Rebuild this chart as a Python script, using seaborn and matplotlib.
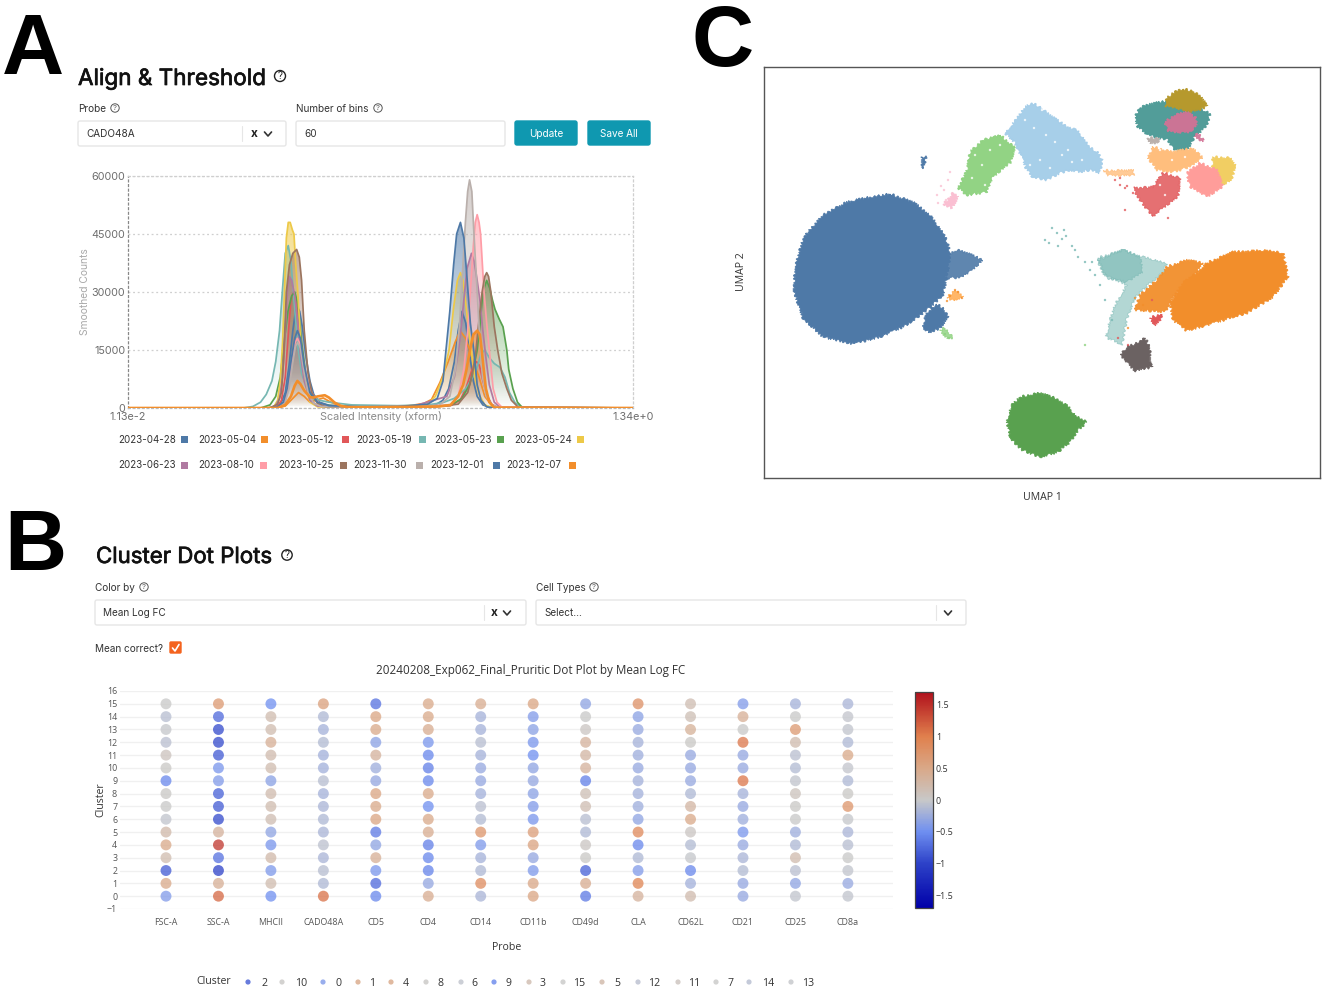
import numpy as np
import pandas as pd
import matplotlib
matplotlib.use("Agg")
import matplotlib.pyplot as plt
import matplotlib.patheffects as pe
from matplotlib.colors import LinearSegmentedColormap, Normalize, to_rgb
from matplotlib.cm import ScalarMappable
from matplotlib.patches import FancyBboxPatch, Circle, Polygon, Rectangle
import seaborn as sns

W, H = 1325, 990

# ---------- Panel A data (intensity in thousandths, counts in thousands) ----------
dates = ["2023-04-28","2023-05-04","2023-05-12","2023-05-19","2023-05-23","2023-05-24",
         "2023-06-23","2023-08-10","2023-10-25","2023-11-30","2023-12-01","2023-12-07"]
date_colors = ["#4e79a7","#f28e2b","#e15759","#76b7b2","#59a14f","#edc948",
               "#b07aa1","#ff9da7","#9c755f","#bab0ac","#4e79a7","#f28e2b"]
x_0428 = [11,370,395,405,415,425,435,445,452,457,463,470,480,490,500,515,540,600,700,780,820,840,855,870,880,890,900,910,920,930,945,965,1340]
y_0428 = [0,0,.1,.5,1.5,4,11,20,25,26,25,21,13,7,3.5,1.5,.7,.4,.3,.4,.8,2,5,12,20,25,22,14,7,3,.8,.1,0]
x_0504 = [11,400,425,445,460,475,490,505,525,545,570,650,720,760,790,810,832,853,872,885,900,920,935,950,970,990,1340]
y_0504 = [0,0,.5,2.5,4,3,1.5,2,2.6,1.5,.5,.3,.4,.7,1.2,2.2,6.6,11.8,17,20,18,12,8,3,.5,.1,0]
x_0512 = [11,385,405,415,425,433,440,446,453,462,472,485,500,520,620,780,860,885,900,910,920,928,936,945,955,968,985,1340]
y_0512 = [0,0,.4,2,8,19,28,30,28,20,10,4,1.2,.3,.2,.3,.6,2,5,8,11,12,11,7,3.5,1,.1,0]
x_0519 = [11,315,340,360,375,390,400,410,418,425,433,440,448,458,468,480,495,515,540,600,720,800,840,870,900,925,940,950,962,975,990,1003,1015,1030,1045,1060,1340]
y_0519 = [0,0,.4,1.5,3.5,7,12,20,31,40,42,38,28,16,9,5.5,3,2,1.5,.8,.6,.8,1.4,2.5,5,9,14,15,13,11.5,10.5,8,4,1.3,.4,0,0]
x_0523 = [11,360,385,400,412,422,432,442,450,458,468,480,495,515,600,780,860,890,910,920,930,938,945,955,963,970,977,988,998,1003,1008,1013,1024,1036,1048,1340]
y_0523 = [0,0,.8,3,8,17,25,29,30,27,17,8,3,.8,.3,.3,.7,2.5,6,10,15,22,30,33,31,28,25.5,23,21,18,15,10,5,1.5,.2,0]
x_0524 = [11,375,395,405,412,418,424,428,433,438,444,448,452,458,465,475,490,510,600,760,800,820,840,856,868,878,886,893,900,910,924,935,950,970,1340]
y_0524 = [0,0,.3,2,7,17,33,44,48,48,46,45,38,30,18,7,1.5,.3,.2,.3,1,3,8,15,26,33,35,33,27,18,8,3.5,.8,.1,0]
x_0623 = [11,380,400,410,418,425,431,436,442,450,458,465,475,490,510,600,760,850,870,885,895,903,915,922,930,937,945,953,962,975,990,1340]
y_0623 = [0,0,.6,2.5,8,20,31,34,33,29,22,14,7,2,.5,.3,.4,3,8,18,28,36,40,38,33,28,20,13,6,1.5,.2,0]
x_0810 = [11,395,415,425,435,445,451,457,464,475,490,505,525,600,750,860,880,895,905,912,920,925,930,935,939,948,955,962,972,982,995,1340]
y_0810 = [0,0,.5,2,6,13,17,18,16.5,10.5,5,2,.6,.3,.3,.8,3,10,20,30,42,48,50,48,45,30,22,15,5,1.5,.2,0]
x_1025 = [11,385,405,415,421,428,436,445,455,462,468,475,485,495,510,530,620,820,880,905,918,927,936,943,950,955,960,966,975,984,995,1008,1020,1038,1340]
y_1025 = [0,0,1,4,13,30,37,40,41,39,33,20,9,4,1.2,.4,.2,.3,1,4,9,15,24,30,34,35,34,30,21,15,9,5,2,.2,0]
x_1130 = [11,395,415,425,435,445,452,458,465,475,485,500,520,600,750,830,858,873,884,892,899,905,910,916,921,929,936,944,954,969,989,1340]
y_1130 = [0,0,.3,1.5,5,12,16,17,15.5,9,4,1.2,.4,.3,.3,.7,3,10,22,36,48,56,59,56,46,32,19,8,3,.8,.1,0]
x_1201 = [11,385,405,420,430,440,450,457,465,475,490,510,540,620,720,800,825,840,848,858,868,876,886,895,903,906,912,921,930,940,955,975,1340]
y_1201 = [0,0,.3,1.5,5,12,18,20,18,11,4,1.5,.6,.3,.3,1,2.5,7,15,25,37,45,48,44,34,30,22,15,6,2,.3,0,0]
x_1207 = [11,405,425,440,450,457,465,475,490,500,510,529,540,555,570,590,660,760,830,860,880,893,902,911,920,930,937,942,945,953,962,975,1340]
y_1207 = [0,0,.8,3,5.8,7,6.2,4.5,2.8,2.7,3,3.3,2.7,1.4,.6,.2,.2,.3,.4,.8,3,6,10,15,19,20,19,15,12,5,1.5,.1,0]
curves_x = [x_0428,x_0504,x_0512,x_0519,x_0523,x_0524,x_0623,x_0810,x_1025,x_1130,x_1201,x_1207]
curves_y = [y_0428,y_0504,y_0512,y_0519,y_0523,y_0524,y_0623,y_0810,y_1025,y_1130,y_1201,y_1207]
y_ticks_a = [0,15000,30000,45000,60000]

# ---------- Panel B data (rows are clusters 15 down to 0) ----------
probes = ["FSC-A","SSC-A","MHCII","CADO48A","CD5","CD4","CD14","CD11b","CD49d","CLA","CD62L","CD21","CD25","CD8a"]
clusters_desc = list(range(15,-1,-1))
v_fsc  = [0,-.1,-.02,-.08,.08,.02,-.55,.02,.01,-.05,.25,.5,.2,-.85,.5,-.4]
v_ssc  = [.7,-.75,-.95,-.95,-.85,-.45,-.4,-.8,-.85,-.95,.35,1.45,-.7,-1.0,.4,1.15]
v_mhc  = [-.5,.2,.2,.4,.22,.2,-.35,.22,.2,.18,-.32,-.45,.25,-.42,.2,-.5]
v_cado = [.6,-.15,-.2,-.12,-.22,-.22,-.1,-.2,-.18,-.15,-.18,-.07,-.18,-.1,-.15,1.1]
v_cd5  = [-.7,.55,.5,-.35,.35,-.25,-.3,.55,.5,.55,-.65,-.32,.4,-.45,-.75,-.55]
v_cd4  = [.5,.5,.45,-.45,-.55,-.6,-.55,.5,-.5,.5,.45,-.6,-.55,-.58,-.3,.45]
v_cd14 = [.45,-.2,-.2,-.1,-.2,-.28,-.3,-.22,-.08,-.12,.75,-.42,-.2,-.15,.85,-.18]
v_cd11 = [.55,-.4,-.35,-.45,-.5,-.32,-.3,-.35,-.4,-.45,.65,.58,-.3,-.42,.52,.55]
v_cd49 = [-.32,0,.05,.35,.3,.35,-.6,.15,.18,-.1,-.15,.05,.02,-.8,.45,-.65]
v_cla  = [.8,-.35,-.28,-.2,-.25,-.28,-.22,-.22,-.25,-.32,.9,-.55,-.15,-.4,.95,.35]
v_cd62 = [.18,.15,.38,.02,-.28,-.3,-.28,-.15,.3,.5,.05,-.12,-.02,-.55,-.22,.22]
v_cd21 = [-.4,.4,0,1.05,-.3,-.28,1.05,-.2,-.3,-.25,-.45,-.28,-.18,-.12,-.3,-.3]
v_cd25 = [-.2,0,.7,.22,-.08,-.12,-.04,.1,.02,0,-.25,-.15,.22,-.08,-.32,-.05]
v_cd8  = [-.18,-.03,-.05,-.15,.5,-.03,-.15,.02,.75,-.02,-.18,-.1,0,-.05,-.28,-.05]
columns_b = [v_fsc,v_ssc,v_mhc,v_cado,v_cd5,v_cd4,v_cd14,v_cd11,v_cd49,v_cla,v_cd62,v_cd21,v_cd25,v_cd8]
legend_clusters = ["2","10","0","1","4","8","6","9","3","15","5","12","11","7","14","13"]
legend_values = [-.85,.02,-.4,.5,.5,.02,-.05,-.55,.2,0,.25,-.08,.08,.01,-.1,-.02]
legend_dot_x = [248,282,323,358,391,426,461,494,529,563,602,638,678,716,749,791]
legend_lab_x = [264,301,338,372,406,440,474,508,543,579,617,654,694,731,768,808]

# ---------- Panel C data (outlines, in plot units) ----------
umap_shapes = [
 ("#76b7b2",.55,[(1098,258),(1123,250),(1140,256),(1167,263),(1163,273),(1150,283),(1135,298),(1127,318),(1122,345),(1112,340),(1106,337),(1110,320),(1115,305),(1127,285),(1105,275)]),
 ("#76b7b2",.55,[(1098,260),(1123,250),(1140,257),(1143,272),(1127,282),(1107,278),(1101,270)]),
 ("#4e79a7",1,[(890,194),(913,202),(930,215),(945,235),(950,252),(948,272),(943,295),(927,310),(907,325),(880,337),(853,344),(823,337),(803,318),(794,292),(795,268),(803,238),(823,215),(847,202),(870,197)]),
 ("#4e79a7",.9,[(945,256),(957,250),(967,253),(983,260),(970,272),(960,278),(945,278)]),
 ("#4e79a7",1,[(936,304),(943,308),(948,317),(940,328),(930,333),(923,328),(925,315)]),
 ("#ffa94d",.85,[(947,298),(955,290),(963,297),(953,300)]),
 ("#8cd17d",.8,[(940,330),(945,328),(953,338),(947,338)]),
 ("#59a14f",1,[(1020,397),(1040,393),(1055,398),(1068,406),(1075,415),(1087,422),(1078,430),(1070,442),(1058,452),(1040,457),(1022,450),(1010,438),(1007,420),(1012,405)]),
 ("#f28e2b",.95,[(1167,267),(1187,260),(1203,263),(1193,277),(1173,297),(1165,312),(1135,310),(1140,295),(1157,280)]),
 ("#f28e2b",1,[(1207,263),(1233,252),(1267,250),(1283,253),(1288,277),(1273,297),(1247,313),(1207,325),(1187,331),(1173,320),(1170,303),(1183,283),(1197,273)]),
 ("#6b6262",1,[(1145,338),(1150,347),(1150,362),(1152,367),(1135,371),(1127,363),(1120,355),(1127,347),(1140,342)]),
 ("#e15759",1,[(1150,318),(1162,314),(1160,320),(1155,325)]),
 ("#a0cbe8",.92,[(1032,103),(1040,107),(1047,113),(1060,122),(1068,127),(1077,130),(1085,140),(1090,147),(1098,153),(1102,160),(1100,173),(1090,170),(1080,172),(1070,170),(1060,173),(1047,180),(1032,177),(1026,168),(1023,160),(1015,143),(1005,133),(1012,125),(1018,117),(1025,107)]),
 ("#8cd17d",.95,[(1000,135),(1015,148),(1010,163),(993,177),(987,192),(967,195),(958,188),(967,170),(970,152),(983,140)]),
 ("#fabfd2",1,[(943,205),(953,193),(958,197),(952,208)]),
 ("#499894",.95,[(1135,118),(1139,108),(1150,104),(1167,101),(1185,105),(1200,108),(1210,114),(1208,122),(1203,130),(1195,135),(1192,142),(1187,150),(1178,152),(1172,147),(1168,140),(1155,137),(1145,133),(1138,127)]),
 ("#b6992d",1,[(1183,89),(1193,91),(1202,98),(1207,106),(1200,110),(1187,112),(1175,108),(1165,106),(1167,98),(1175,92)]),
 ("#d37295",.95,[(1165,122),(1175,115),(1187,112),(1196,118),(1197,125),(1190,132),(1178,133),(1168,131)]),
 ("#d37295",.9,[(1197,133),(1204,140),(1203,142),(1195,136)]),
 ("#bab0ac",1,[(1148,138),(1160,138),(1157,143),(1150,143)]),
 ("#ffbe7d",1,[(1153,147),(1172,152),(1193,148),(1203,158),(1190,167),(1173,172),(1157,170),(1148,158)]),
 ("#ffbe7d",.8,[(1103,170),(1133,170),(1133,175),(1107,175)]),
 ("#f1ce63",1,[(1213,157),(1230,158),(1235,165),(1232,180),(1222,185),(1212,170)]),
 ("#ff9d9a",1,[(1200,163),(1217,170),(1223,187),(1207,197),(1190,187),(1187,173)]),
 ("#e15759",.85,[(1163,173),(1180,178),(1178,197),(1163,208),(1153,217),(1140,200),(1133,188),(1153,187)]),
 ("#4e79a7",1,[(922,157),(926,157),(925,165),(922,168)]),
]
speck_color = (["#76b7b2"]*18 + ["#e15759"]*11 + ["#fabfd2"]*7 + ["#f28e2b"]*8 + ["#8cd17d"]*3
               + ["#ffffff"]*24)
speck_x = [1052,1057,1062,1049,1066,1072,1058,1045,1078,1085,1090,1064,1075,1100,1095,1092,1105,1112,
           1120,1127,1133,1125,1168,1152,1118,1128,1115,1120,1125,
           937,941,946,948,950,938,944,
           955,950,958,962,947,1135,1128,1143,
           945,949,1085,
           1025,1034,1046,1055,1062,1040,1050,1068,1082,1030,1042,1072,
           975,982,990,972,985,1000,
           1160,1172,1185,1165,1175,1160]
speck_y = [228,233,239,243,236,246,246,240,257,262,270,230,250,285,275,262,300,320,
           178,186,193,210,218,300,338,345,180,185,188,
           195,186,200,180,172,203,190,
           290,296,292,298,301,298,328,305,
           334,338,345,
           120,128,135,142,155,160,168,150,160,165,110,162,
           155,165,150,178,185,145,
           150,160,157,195,205,185]

# ---------- helpers ----------
sns.set_theme(style="white")
plt.rcParams["font.family"] = ["Inter", "DejaVu Sans"]
fig = plt.figure(figsize=(W/100, H/100), dpi=100, facecolor="white")

def ax_px(l, t, r, b, **kw):
    return fig.add_axes([l/W, 1-b/H, (r-l)/W, (b-t)/H], **kw)

ui = ax_px(0, 0, W, H, zorder=0)
ui.set_xlim(0, W); ui.set_ylim(H, 0); ui.axis("off")

def box(l, t, r, b, fc="white", ec="#e6e6e6", rad=2, lw=1):
    ui.add_patch(FancyBboxPatch((l+rad, t+rad), r-l-2*rad, b-t-2*rad,
                 boxstyle=f"round,pad={rad},rounding_size={rad}", fc=fc, ec=ec, lw=lw))

def help_icon(x, y, r=4.2, fs=5.5, c="#555555", lw=.7):
    ui.add_patch(Circle((x, y), r, fc="none", ec=c, lw=lw))
    ui.text(x, y+.2, "?", ha="center", va="center", fontsize=fs, color=c)

def chevron(x, y, c="#333333"):
    ui.plot([x-3.5, x, x+3.5], [y-2, y+2, y-2], color=c, lw=1.2)

for s, x, y in [("A", 33, 74), ("B", 35, 570), ("C", 723, 66)]:
    ui.text(x, y, s, fontsize=62, fontweight="bold", family="Liberation Sans", ha="center", va="baseline", color="black")

heavy = [pe.withStroke(linewidth=.5, foreground="#111111")]
ui.text(78, 85, "Align & Threshold", fontsize=16.2, color="#111111", path_effects=heavy)
help_icon(280, 76, r=5.5, fs=7, c="#222222", lw=1)
ui.text(78, 112, "Probe", fontsize=7.2, color="#333333")
help_icon(115, 108)
ui.text(296, 112, "Number of bins", fontsize=7.2, color="#333333")
help_icon(378, 108)
box(78, 121, 286, 146)
ui.plot([242, 242], [126, 141], color="#e6e6e6", lw=.8)
ui.text(86, 137, "CADO48A", fontsize=7.2, color="#333333")
ui.text(254, 137, "x", fontsize=8.5, fontweight="bold", ha="center", color="#222222")
chevron(268, 134)
box(296, 121, 505, 146)
ui.text(304, 137, "60", fontsize=7.2, color="#333333")
box(515, 121, 577, 145, fc="#0f98b0", ec="#0f98b0")
ui.text(546, 133.7, "Update", fontsize=7.2, color="white", ha="center", va="center")
box(588, 121, 650, 145, fc="#0f98b0", ec="#0f98b0")
ui.text(619, 133.7, "Save All", fontsize=7.2, color="white", ha="center", va="center")

# ---------- Panel A ----------
ax_a = ax_px(128, 176, 633, 408, zorder=2)
ax_a.set_facecolor("none")
for n, (xs, ys, col) in enumerate(zip(curves_x, curves_y, date_colors)):
    xv = np.array(xs)/1000.0
    yv = np.array(ys)*1000.0
    poly = Polygon(np.column_stack([xv, yv]), closed=True, fc="none", ec="none", transform=ax_a.transData)
    ax_a.add_patch(poly)
    rgb = to_rgb(col)
    grad = np.zeros((64, 1, 4))
    grad[..., 0], grad[..., 1], grad[..., 2] = rgb
    grad[:, 0, 3] = np.linspace(.6, .0, 64)
    im = ax_a.imshow(grad, extent=[xv.min(), xv.max(), 0, yv.max()], aspect="auto", origin="upper", zorder=2)
    im.set_clip_path(poly)
    sns.lineplot(x=xv, y=yv, color=col, lw=1.9 if n == 11 else 1.25, ax=ax_a, estimator=None, sort=False,
                 zorder=3, legend=False)
ax_a.set_xlim(.0113, 1.34)
ax_a.set_ylim(0, 60000)
ax_a.set_xticks([.0113, 1.34], ["1.13e-2", "1.34e+0"])
ax_a.set_yticks(y_ticks_a, [str(v) for v in y_ticks_a])
ax_a.tick_params(axis="both", labelsize=7.8, colors="#6e6e6e", length=0, pad=2)
ax_a.tick_params(axis="x", pad=3)
ax_a.grid(axis="y", color="#cfcfcf", ls=(0, (1.5, 2.2)), lw=.9)
ax_a.set_xlabel("Scaled Intensity (xform)", fontsize=7.8, color="#8a8a8a")
ax_a.xaxis.set_label_coords(.5, -.014, transform=ax_a.transAxes)
ax_a.xaxis.label.set_va("top")
ax_a.set_ylabel("Smoothed Counts", fontsize=7.4, color="#a8a8a8")
ax_a.yaxis.set_label_coords(-.076, .5)
for side, col in [("left", "#888888"), ("top", "#cfcfcf"), ("right", "#cfcfcf"), ("bottom", "#bbbbbb")]:
    ax_a.spines[side].set_visible(True)
    ax_a.spines[side].set_color(col)
    ax_a.spines[side].set_linestyle((0, (1.5, 2.2)))
    ax_a.spines[side].set_linewidth(.9)

leg_rows = [(440, [(118, 181), (198, 261), (278, 342), (356, 419), (434, 497), (514, 577)]),
            (465.5, [(118, 181), (198, 260), (278, 340), (353, 416), (430, 493), (506, 569)])]
i = 0
for y, cells in leg_rows:
    for tx, sx in cells:
        ui.text(tx, y, dates[i], fontsize=7.0, color="#333333", va="center")
        ui.add_patch(Rectangle((sx, y-4), 7, 7, fc=date_colors[i], ec="none"))
        i += 1

# ---------- Panel B ----------
ui.text(96, 563, "Cluster Dot Plots", fontsize=16.0, color="#111111", path_effects=heavy)
help_icon(287, 555, r=5.2, fs=7, c="#222222", lw=1)
ui.text(95, 591, "Color by", fontsize=7.2, color="#333333")
help_icon(144, 587)
ui.text(536, 591, "Cell Types", fontsize=7.2, color="#333333")
help_icon(594, 587)
box(95, 600, 526, 625)
ui.plot([484, 484], [605, 620], color="#e6e6e6", lw=.8)
ui.text(103, 616, "Mean Log FC", fontsize=7.2, color="#333333")
ui.text(494, 616, "x", fontsize=8.5, fontweight="bold", ha="center", color="#222222")
chevron(507, 613)
box(536, 600, 966, 625)
ui.plot([936, 936], [605, 620], color="#e6e6e6", lw=.8)
ui.text(544, 616, "Select...", fontsize=7.2, color="#333333")
chevron(948, 613)
ui.text(95, 652, "Mean correct?", fontsize=7.2, color="#333333")
box(170, 642, 181, 653, fc="#f4631e", ec="#f4631e", rad=1)
ui.plot([172.5, 175, 179], [648, 651, 644.5], color="white", lw=1.2)
ui.text(531, 674, "20240208_Exp062_Final_Pruritic Dot Plot by Mean Log FC", fontsize=8.4,
        family="Open Sans", ha="center", color="#333333")

cmap = LinearSegmentedColormap.from_list("fc", [
    (0, "#0000a8"), (.206, "#2d42c8"), (.353, "#6f8ff0"), (.5, "#c8c8c8"),
    (.647, "#d9a888"), (.794, "#e0804d"), (1, "#b0101c")])
norm = Normalize(-1.7, 1.7)

rows = [(p, c, v) for p, col in zip(probes, columns_b) for c, v in zip(clusters_desc, col)]
df_b = pd.DataFrame(rows, columns=["Probe", "Cluster", "Value"])
df_b["pos"] = df_b["Probe"].map({p: k for k, p in enumerate(probes)})

ax_b = ax_px(120, 691, 893, 909, zorder=2)
ax_b.set_facecolor("none")
sns.scatterplot(data=df_b, x="pos", y="Cluster", hue="Value", palette=cmap, hue_norm=norm, s=62,
                alpha=.75, linewidth=0, legend=False, ax=ax_b, zorder=3, clip_on=False)
ax_b.set_xlim(-.877, 13.86)
ax_b.set_ylim(-1, 16)
ax_b.set_xticks(range(len(probes)), probes)
ax_b.set_yticks(range(-1, 17), ["\u22121"] + [str(v) for v in range(0, 17)])
ax_b.tick_params(axis="both", labelsize=6.4, colors="#555555", length=0, pad=2)
ax_b.tick_params(axis="x", pad=6.5)
ax_b.grid(axis="y", color="#f0f0f0", lw=1)
ax_b.set_axisbelow(True)
sns.despine(ax=ax_b, left=True, bottom=True)
for lab in ax_b.get_xticklabels() + ax_b.get_yticklabels():
    lab.set_family("Open Sans")
ax_b.set_xlabel("")
ax_b.set_ylabel("")
ui.text(101, 800, "Cluster", fontsize=7.6, family="Open Sans", rotation=90, ha="center", va="center", color="#333333")
ui.text(507, 947, "Probe", fontsize=7.6, family="Open Sans", ha="center", va="center", color="#333333")

cax = ax_px(915, 692, 933, 908, zorder=2)
cb = fig.colorbar(ScalarMappable(norm=norm, cmap=cmap), cax=cax)
cb.set_ticks([-1.5, -1, -.5, 0, .5, 1, 1.5], labels=["\u22121.5", "\u22121", "\u22120.5", "0", "0.5", "1", "1.5"])
cb.ax.tick_params(labelsize=6.4, length=0, pad=2, colors="#333333")
for lab in cb.ax.get_yticklabels():
    lab.set_family("Open Sans")
cb.outline.set_edgecolor("#444444")
cb.outline.set_linewidth(.9)

ui.text(196, 981, "Cluster", fontsize=7.6, family="Open Sans", va="center", color="#333333")
for lab, val, dx, lx in zip(legend_clusters, legend_values, legend_dot_x, legend_lab_x):
    ui.add_patch(Circle((dx, 982), 2.6, fc=cmap(norm(val)), ec="none", alpha=.8))
    ui.text(lx, 983, lab, fontsize=7.6, family="Open Sans", ha="center", va="center", color="#333333")

# ---------- Panel C ----------
ax_c = ax_px(764, 67, 1320, 478, zorder=2)
for col, a, pts in umap_shapes:
    arr = np.array(pts)
    for p in ax_c.fill(arr[:, 0], arr[:, 1], facecolor=col, alpha=a, edgecolor=col, linewidth=.6):
        p.set_sketch_params(scale=1.3, length=4, randomness=3)
sns.scatterplot(x=speck_x, y=speck_y, hue=speck_color, palette={c: c for c in set(speck_color)},
                s=3, linewidth=0, alpha=.8, legend=False, ax=ax_c)
ax_c.set_xlim(764, 1320)
ax_c.set_ylim(478, 67)
ax_c.set_xticks([]); ax_c.set_yticks([])
for s in ax_c.spines.values():
    s.set_visible(True); s.set_color("#555555"); s.set_linewidth(1)
ui.text(1042, 497, "UMAP 1", fontsize=7.6, family="Open Sans", ha="center", va="center", color="#333333")
ui.text(742, 272, "UMAP 2", fontsize=7.6, family="Open Sans", rotation=90, ha="center", va="center", color="#333333")

fig.savefig("out.png", dpi=100, facecolor="white")
